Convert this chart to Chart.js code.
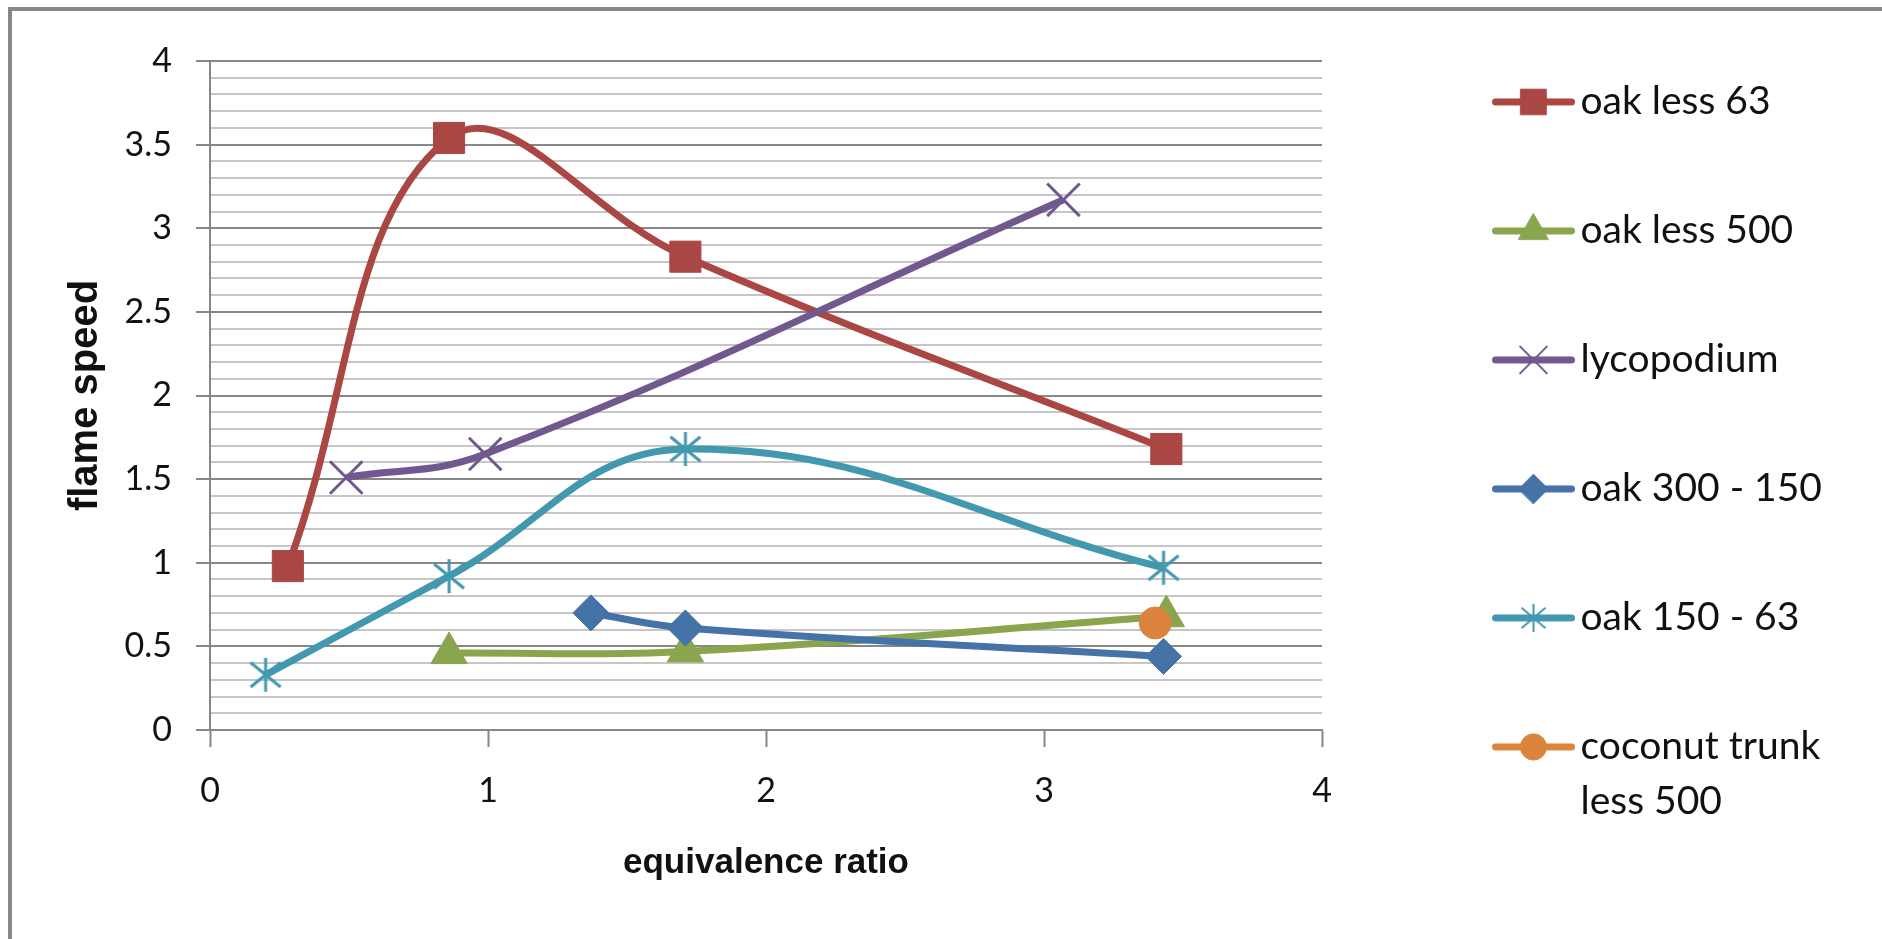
<!DOCTYPE html>
<html>
<head>
<meta charset="utf-8">
<title>flame speed vs equivalence ratio</title>
<script src="https://cdn.jsdelivr.net/npm/chart.js@4.4.1/dist/chart.umd.min.js"></script>
<style>
  html, body { margin: 0; padding: 0; background: #fff; overflow: hidden; }
  #frame { position: absolute; left: 8px; top: 7px; width: 1900px; height: 960px;
           border-top: 4px solid #878787; border-left: 4px solid #878787; }
  #wrap { position: absolute; left: 0; top: 0; width: 1882px; height: 939px; }
</style>
</head>
<body>
<div id="frame"></div>
<div id="wrap"><canvas id="flameChart"></canvas></div>
<script>
'use strict';

// equivalence ratio (x) and flame speed (y) for each dust sample
const seriesNames = ['oak less 63', 'oak less 500', 'lycopodium', 'oak 300 - 150', 'oak 150 - 63', 'coconut trunk\nless 500'];

const oak63Ratio = [0.28, 0.86, 1.71, 3.44];
const oak63Speed = [0.98, 3.54, 2.83, 1.68];

const oak500Ratio = [0.86, 1.71, 3.44];
const oak500Speed = [0.46, 0.47, 0.68];

const lycoRatio = [0.49, 0.99, 3.07];
const lycoSpeed = [1.51, 1.65, 3.17];

const oak300Ratio = [1.37, 1.71, 3.43];
const oak300Speed = [0.70, 0.61, 0.44];

const oak150Ratio = [0.20, 0.86, 1.71, 3.43];
const oak150Speed = [0.33, 0.92, 1.68, 0.97];

const coconutRatio = [3.40];
const coconutSpeed = [0.64];

const xRange = [0, 4];
const xStep = 1;
const yRange = [0, 4];
const yLabelStep = 0.5;
const yGridStep = 0.1;

const seriesRatios = [oak63Ratio, oak500Ratio, lycoRatio, oak300Ratio, oak150Ratio, coconutRatio];
const seriesSpeeds = [oak63Speed, oak500Speed, lycoSpeed, oak300Speed, oak150Speed, coconutSpeed];

// look of each series
const seriesColors = ['#AA4643', '#89A54E', '#71588F', '#4572A7', '#4198AF', '#DB843D'];
const markerRadius = [22, 21, 23, 18, 18, 16];
const markerBorder = [1, 1, 3, 1, 0, 1];

const tickFont = { family: 'Lato, "Liberation Sans", sans-serif', size: 34 };
const yTitleFont = { family: '"Liberation Sans", Arial, sans-serif', size: 40, weight: 'bold' };
const xTitleFont = { family: '"Liberation Sans", Arial, sans-serif', size: 35, weight: 'bold' };
const legendFont = { family: 'Lato, "Liberation Sans", sans-serif', size: 39, lineHeight: 1.4 };

// asterisk marker: a vertical bar crossed by an X
function asterisk(color, w, h, lw) {
  let c = document.createElement('canvas');
  c.width = w;
  c.height = h;
  let g = c.getContext('2d');
  g.strokeStyle = color;
  g.lineWidth = lw;
  g.beginPath();
  g.moveTo(w / 2, 1); g.lineTo(w / 2, h - 1);
  g.moveTo(2, h * 0.16); g.lineTo(w - 2, h * 0.84);
  g.moveTo(w - 2, h * 0.16); g.lineTo(2, h * 0.84);
  g.stroke();
  return c;
}

const markerStyles = ['rect', 'triangle', 'crossRot', 'rectRot', asterisk(seriesColors[4], 34, 36, 3), 'circle'];

// legend sample: short thick line with the marker in the middle
const legendBox = 69;
function legendIcon(i) {
  let c = document.createElement('canvas');
  c.width = 97;
  c.height = 44;
  let g = c.getContext('2d');
  let col = seriesColors[i];
  g.strokeStyle = col;
  g.lineWidth = 7;
  g.lineCap = 'round';
  g.beginPath();
  g.moveTo(17.5, 22);
  g.lineTo(93.5, 22);
  g.stroke();
  g.fillStyle = col;
  g.lineWidth = i === 2 ? 2 : (markerBorder[i] || 1);
  let style = i === 4 ? asterisk(col, 28, 30, 2) : markerStyles[i];
  Chart.helpers.drawPoint(g, { pointStyle: style, radius: markerRadius[i] * 0.82, borderWidth: g.lineWidth, rotation: 0 }, 55.5, 22);
  return c;
}

const isMajor = v => Math.abs(v / yLabelStep - Math.round(v / yLabelStep)) < 1e-6;

let datasets = [];
for (let i = 0; i < seriesNames.length; i++) {
  datasets.push({
    label: seriesNames[i].replace('\n', ' '),
    data: seriesRatios[i].map((x, n) => ({ x: x, y: seriesSpeeds[i][n] })),
    borderColor: seriesColors[i],
    backgroundColor: seriesColors[i],
    borderWidth: 7,
    tension: 0.4,
    pointStyle: markerStyles[i],
    pointRadius: markerRadius[i],
    pointBackgroundColor: seriesColors[i],
    pointBorderColor: seriesColors[i],
    pointBorderWidth: markerBorder[i],
    order: seriesNames.length - 1 - i
  });
}

let legendIcons = seriesNames.map((n, i) => legendIcon(i));

let context = document.getElementById('flameChart').getContext('2d');
let chart = new Chart(context, {
  type: 'line',
  data: { datasets: datasets },
  options: {
    responsive: true,
    maintainAspectRatio: false,
    animation: false,
    layout: { autoPadding: false, padding: { top: -20, right: 0, bottom: 0, left: 0 } },
    plugins: {
      tooltip: { enabled: false },
      legend: {
        position: 'right',
        align: 'center',
        maxWidth: 520,
        labels: {
          usePointStyle: true,
          pointStyleWidth: legendBox,
          padding: 90,
          color: '#111',
          font: legendFont,
          generateLabels: ch => ch.data.datasets.map((ds, i) => ({
            text: seriesNames[i].indexOf('\n') >= 0 ? seriesNames[i].split('\n') : seriesNames[i],
            fillStyle: seriesColors[i],
            strokeStyle: seriesColors[i],
            lineWidth: 0,
            pointStyle: legendIcons[i],
            hidden: false,
            datasetIndex: i,
            fontColor: '#111'
          }))
        }
      }
    },
    scales: {
      x: {
        type: 'linear',
        min: xRange[0],
        max: xRange[1],
        ticks: { stepSize: xStep, color: '#111', font: tickFont, padding: 24 },
        grid: { drawOnChartArea: false, drawTicks: true, tickLength: 17, tickColor: '#878787', tickWidth: 2, color: '#878787' },
        border: { color: '#878787', width: 2 },
        title: { display: true, text: 'equivalence ratio', color: '#111', font: xTitleFont, padding: { top: 0, bottom: 55 } },
        afterFit: s => { s.height = 209; s.paddingRight = 560; }
      },
      y: {
        type: 'linear',
        min: yRange[0],
        max: yRange[1],
        ticks: {
          stepSize: yGridStep,
          autoSkip: false,
          color: '#111',
          font: tickFont,
          padding: 24,
          callback: v => isMajor(v) ? String(Math.round(v * 10) / 10) : ''
        },
        grid: {
          drawTicks: true,
          tickLength: 14,
          lineWidth: 2,
          tickWidth: 2,
          color: c => isMajor(c.tick.value) ? '#878787' : '#c6c6c6',
          tickColor: c => isMajor(c.tick.value) ? '#878787' : 'rgba(0,0,0,0)'
        },
        border: { color: '#878787', width: 2 },
        title: { display: true, text: 'flame speed', color: '#111', font: yTitleFont, padding: { top: 62, bottom: 0 } },
        afterFit: s => { s.width = 210; s.paddingTop = 61; }
      },
      // empty strip that keeps the legend away from the plot
      gap: {
        type: 'linear',
        position: 'right',
        display: true,
        ticks: { display: false },
        grid: { display: false, drawTicks: false },
        border: { display: false },
        afterFit: s => { s.width = 80; }
      }
    }
  }
});
</script>
</body>
</html>
